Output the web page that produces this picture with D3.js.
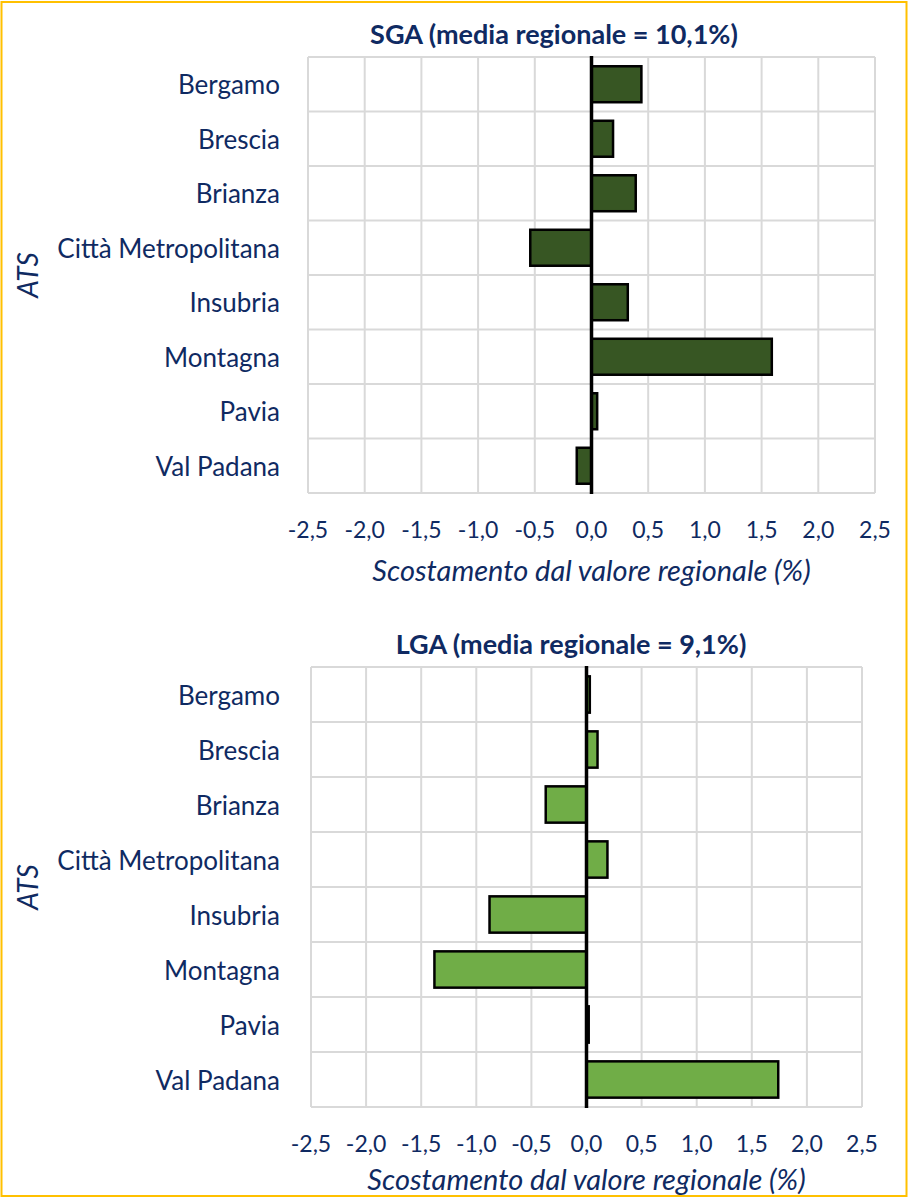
<!DOCTYPE html>
<html>
<head>
<meta charset="utf-8">
<script src="https://cdn.jsdelivr.net/npm/d3@7"></script>
<style>
  body { margin: 0; background: #fff; }
  text { font-family: Lato, "Open Sans", sans-serif; fill: #0f2a62; }
</style>
</head>
<body>
<svg width="909" height="1199"></svg>
<script>
"use strict";

const categories = ["Bergamo", "Brescia", "Brianza", "Città Metropolitana", "Insubria", "Montagna", "Pavia", "Val Padana"];
const sgaValues = [0.44, 0.19, 0.39, -0.54, 0.32, 1.59, 0.05, -0.13];
const lgaValues = [0.03, 0.10, -0.37, 0.19, -0.88, -1.38, 0.02, 1.74];
const xTicks = [-2.5, -2.0, -1.5, -1.0, -0.5, 0.0, 0.5, 1.0, 1.5, 2.0, 2.5];

const svg = d3.select("svg");

// gold frame round everything
svg.append("rect")
    .attr("x", 1.5).attr("y", 2).attr("width", 905).attr("height", 1194)
    .attr("fill", "none").attr("stroke", "#ffc000").attr("stroke-width", 2);

function drawPanel(opts) {
    const g = svg.append("g");
    const x = d3.scaleLinear().domain([-2.5, 2.5]).range([opts.left, opts.right]);
    const y = d3.scaleBand().domain(categories).range([opts.top, opts.bottom]).paddingInner(0.34).paddingOuter(0.17);
    const rows = d3.scaleBand().domain(categories).range([opts.top, opts.bottom]);

    // vertical gridlines
    g.selectAll("line.vgrid")
        .data(xTicks)
        .join("line")
            .attr("x1", d => x(d)).attr("x2", d => x(d))
            .attr("y1", opts.top).attr("y2", opts.bottom)
            .attr("stroke", "#d9d9d9").attr("stroke-width", 2);

    // horizontal gridlines (row boundaries)
    const hLines = categories.map(c => rows(c)).concat([opts.bottom]);
    g.selectAll("line.hgrid")
        .data(hLines)
        .join("line")
            .attr("x1", opts.left).attr("x2", opts.right)
            .attr("y1", d => d).attr("y2", d => d)
            .attr("stroke", "#d9d9d9").attr("stroke-width", 2);

    // bars
    g.selectAll("rect.bar")
        .data(opts.values)
        .join("rect")
            .attr("x", d => Math.min(x(0), x(d)))
            .attr("y", (d, i) => y(categories[i]))
            .attr("width", d => Math.abs(x(d) - x(0)))
            .attr("height", y.bandwidth())
            .attr("fill", opts.color)
            .attr("stroke", "#000")
            .attr("stroke-width", 2.5);

    // zero axis
    g.append("line")
        .attr("x1", x(0)).attr("x2", x(0))
        .attr("y1", opts.top - 1).attr("y2", opts.bottom + 1)
        .attr("stroke", "#000").attr("stroke-width", 3.5);

    // category labels
    g.selectAll("text.cat")
        .data(categories)
        .join("text")
            .attr("x", 280)
            .attr("y", d => rows(d) + rows.bandwidth() / 2)
            .attr("text-anchor", "end")
            .attr("dominant-baseline", "central")
            .attr("font-size", 26)
            .text(d => d);

    // x tick labels
    g.selectAll("text.tick")
        .data(xTicks)
        .join("text")
            .attr("x", d => x(d))
            .attr("y", opts.bottom + 36)
            .attr("text-anchor", "middle")
            .attr("dominant-baseline", "central")
            .attr("font-size", 23)
            .text(d => d3.format(".1f")(d).replace(".", ",").replace("−", "-"));

    // x axis title
    g.append("text")
        .attr("x", x(0))
        .attr("y", opts.bottom + opts.titleGap)
        .attr("text-anchor", "middle")
        .attr("dominant-baseline", "central")
        .attr("font-size", 29)
        .attr("font-style", "italic")
        .text("Scostamento dal valore regionale (%)");

    // y axis title
    g.append("text")
        .attr("transform", `translate(27, ${(opts.top + opts.bottom) / 2}) rotate(-90)`)
        .attr("text-anchor", "middle")
        .attr("dominant-baseline", "central")
        .attr("font-size", 28)
        .attr("font-style", "italic")
        .text("ATS");

    // chart title
    g.append("text")
        .attr("x", opts.titleX)
        .attr("y", opts.top - 24)
        .attr("text-anchor", "middle")
        .attr("dominant-baseline", "central")
        .attr("font-size", 27)
        .attr("font-weight", "bold")
        .text(opts.title);
}

drawPanel({
    title: "SGA (media regionale = 10,1%)",
    values: sgaValues,
    color: "#375623",
    left: 308, right: 875, top: 57, bottom: 493,
    titleGap: 76, titleX: 554
});

drawPanel({
    title: "LGA (media regionale = 9,1%)",
    values: lgaValues,
    color: "#70ad47",
    left: 311, right: 862, top: 667, bottom: 1107,
    titleGap: 71, titleX: 571
});
</script>
</body>
</html>
